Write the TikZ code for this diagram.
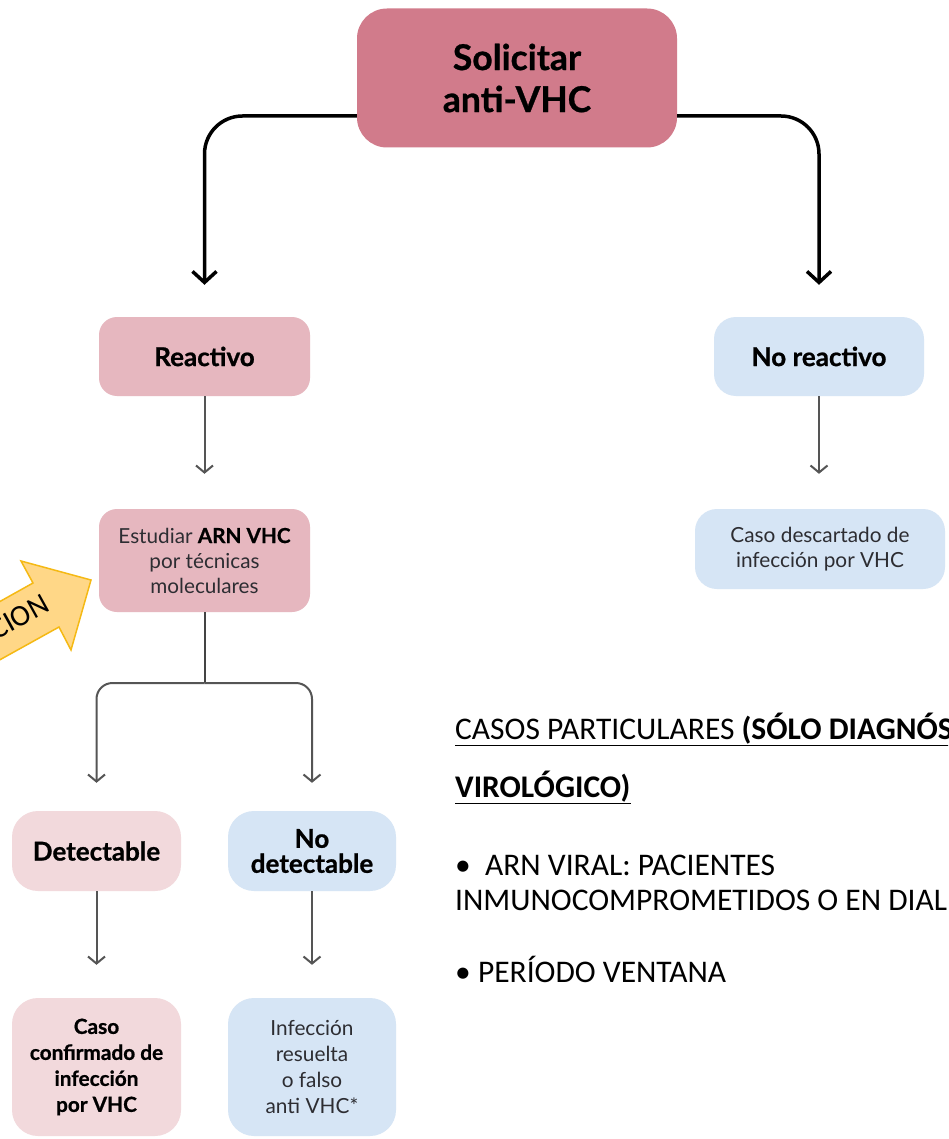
\documentclass[tikz,border=0pt]{standalone}
\usepackage{fontspec}
\setmainfont{Lato}
\newfontfamily\heavy{Lato}[BoldFeatures={FakeBold=0.8}]
\newfontfamily\calib{Carlito}
\usetikzlibrary{arrows.meta,calc}
\definecolor{topc}{RGB}{209,123,139}
\definecolor{pinkc}{RGB}{230,183,191}
\definecolor{lpinkc}{RGB}{242,217,220}
\definecolor{bluec}{RGB}{214,229,245}
\definecolor{txtc}{RGB}{45,45,50}
\definecolor{linec}{RGB}{85,85,85}
\definecolor{yfill}{RGB}{255,215,135}
\definecolor{ydraw}{RGB}{245,185,20}
\tikzset{
  boxbase/.style={rounded corners=#1, align=center, inner sep=0pt, text=black},
  boxbase/.default=22pt,
  bigarr/.style={line width=3.5pt, black, rounded corners=38pt,
    -{Straight Barb[length=11pt,width=24pt,line width=3.5pt]}},
  thinarr/.style={line width=2pt, linec,
    -{Straight Barb[length=7pt,width=17pt,line width=2pt]}},
  sidetext/.style={font=\calib\fontsize{31.5}{36}\selectfont, anchor=base west, inner sep=0pt, text=black}
}
\begin{document}
\begin{tikzpicture}[x=1pt,y=-1pt]
\useasboundingbox (0,0) rectangle (948,1139);
\clip (0,0) rectangle (948,1139);
\fill[white] (0,0) rectangle (948,1139);

% yellow block arrow
\draw[fill=yfill, draw=ydraw, line width=1.5pt, line join=miter]
  (-60,635) -- (33,583) -- (21,561) -- (91,580) -- (71,650) -- (59,627) -- (-60,693) -- cycle;
\node[font=\calib\fontsize{30}{34}\selectfont, rotate=29, inner sep=0pt] (cion) at (19,617) {CION};

% boxes
\node[boxbase=30pt, fill=topc, minimum width=320pt, minimum height=139pt,
  font=\heavy\bfseries\fontsize{35.5}{42}\selectfont] (top) at (517,78) {Solicitar\\anti-VHC};
\node[boxbase=18pt, fill=pinkc, minimum width=211pt, minimum height=79pt,
  font=\heavy\bfseries\fontsize{26}{28}\selectfont] (reac) at (204.5,356.5) {Reactivo};
\node[boxbase=22pt, fill=bluec, minimum width=210pt, minimum height=79pt,
  font=\heavy\bfseries\fontsize{26}{28}\selectfont] (noreac) at (819,356.5) {No reactivo};
\node[boxbase=18pt, fill=pinkc, minimum width=211pt, minimum height=103pt,
  font=\fontsize{20.7}{25}\selectfont, text=txtc] (est) at (204.5,560.5)
  {Estudiar {\heavy\bfseries\color{black}ARN VHC}\\por técnicas\\moleculares};
\node[boxbase=22pt, fill=bluec, minimum width=250pt, minimum height=80pt,
  font=\fontsize{20.8}{25.5}\selectfont, text=txtc] (desc) at (820,549)
  {Caso descartado de\\infección por VHC};
\node[boxbase=26pt, fill=lpinkc, minimum width=169pt, minimum height=80pt,
  font=\heavy\bfseries\fontsize{26}{28}\selectfont] (det) at (96.5,851) {Detectable};
\node[boxbase=26pt, fill=bluec, minimum width=168pt, minimum height=80pt,
  font=\heavy\bfseries\fontsize{26}{25}\selectfont] (nodet) at (312,851) {No\\detectable};
\node[boxbase=26pt, fill=lpinkc, minimum width=169pt, minimum height=138pt,
  font=\heavy\bfseries\fontsize{20.8}{26}\selectfont] (conf) at (96.5,1067)
  {Caso\\confirmado de\\infección\\por VHC};
\node[boxbase=26pt, fill=bluec, minimum width=168pt, minimum height=138pt,
  font=\fontsize{20.8}{26}\selectfont, text=txtc] (res) at (312,1067)
  {Infección\\resuelta\\o falso\\anti VHC*};

% connectors
\draw[bigarr, shorten >=32pt] ($(top.west)+(0,38)$) -| (reac.north);
\draw[bigarr, shorten >=32pt] ($(top.east)+(0,38)$) -| (noreac.north);
\draw[thinarr, shorten >=35pt] (reac.south) -- (est.north);
\draw[thinarr, shorten >=35pt] (noreac.south) -- (noreac.south |- desc.north);
\coordinate (split) at (204.5,683);
\draw[line width=2pt, linec!80!black] (est.south) -- (split);
\draw[thinarr, rounded corners=16pt, shorten >=28pt] (split) -| (det.north);
\draw[thinarr, rounded corners=16pt, shorten >=28pt] (split) -| (nodet.north);
\draw[thinarr, shorten >=33pt] (det.south) -- (conf.north);
\draw[thinarr, shorten >=33pt] (nodet.south) -- (res.north);

% side text
\node[sidetext] (t1) at (455,739) {\underline{CASOS PARTICULARES \textbf{(SÓLO DIAGNÓS}}};
\node[sidetext] (t2) at (455,797) {\underline{\textbf{VIROLÓGICO)}}};
\node[sidetext] (t3) at (455,875) {•\ \ ARN VIRAL: PACIENTES};
\node[sidetext] (t4) at (455,910) {INMUNOCOMPROMETIDOS O EN DIAL};
\node[sidetext] (t5) at (455,982) {• PERÍODO VENTANA};
\end{tikzpicture}
\end{document}
